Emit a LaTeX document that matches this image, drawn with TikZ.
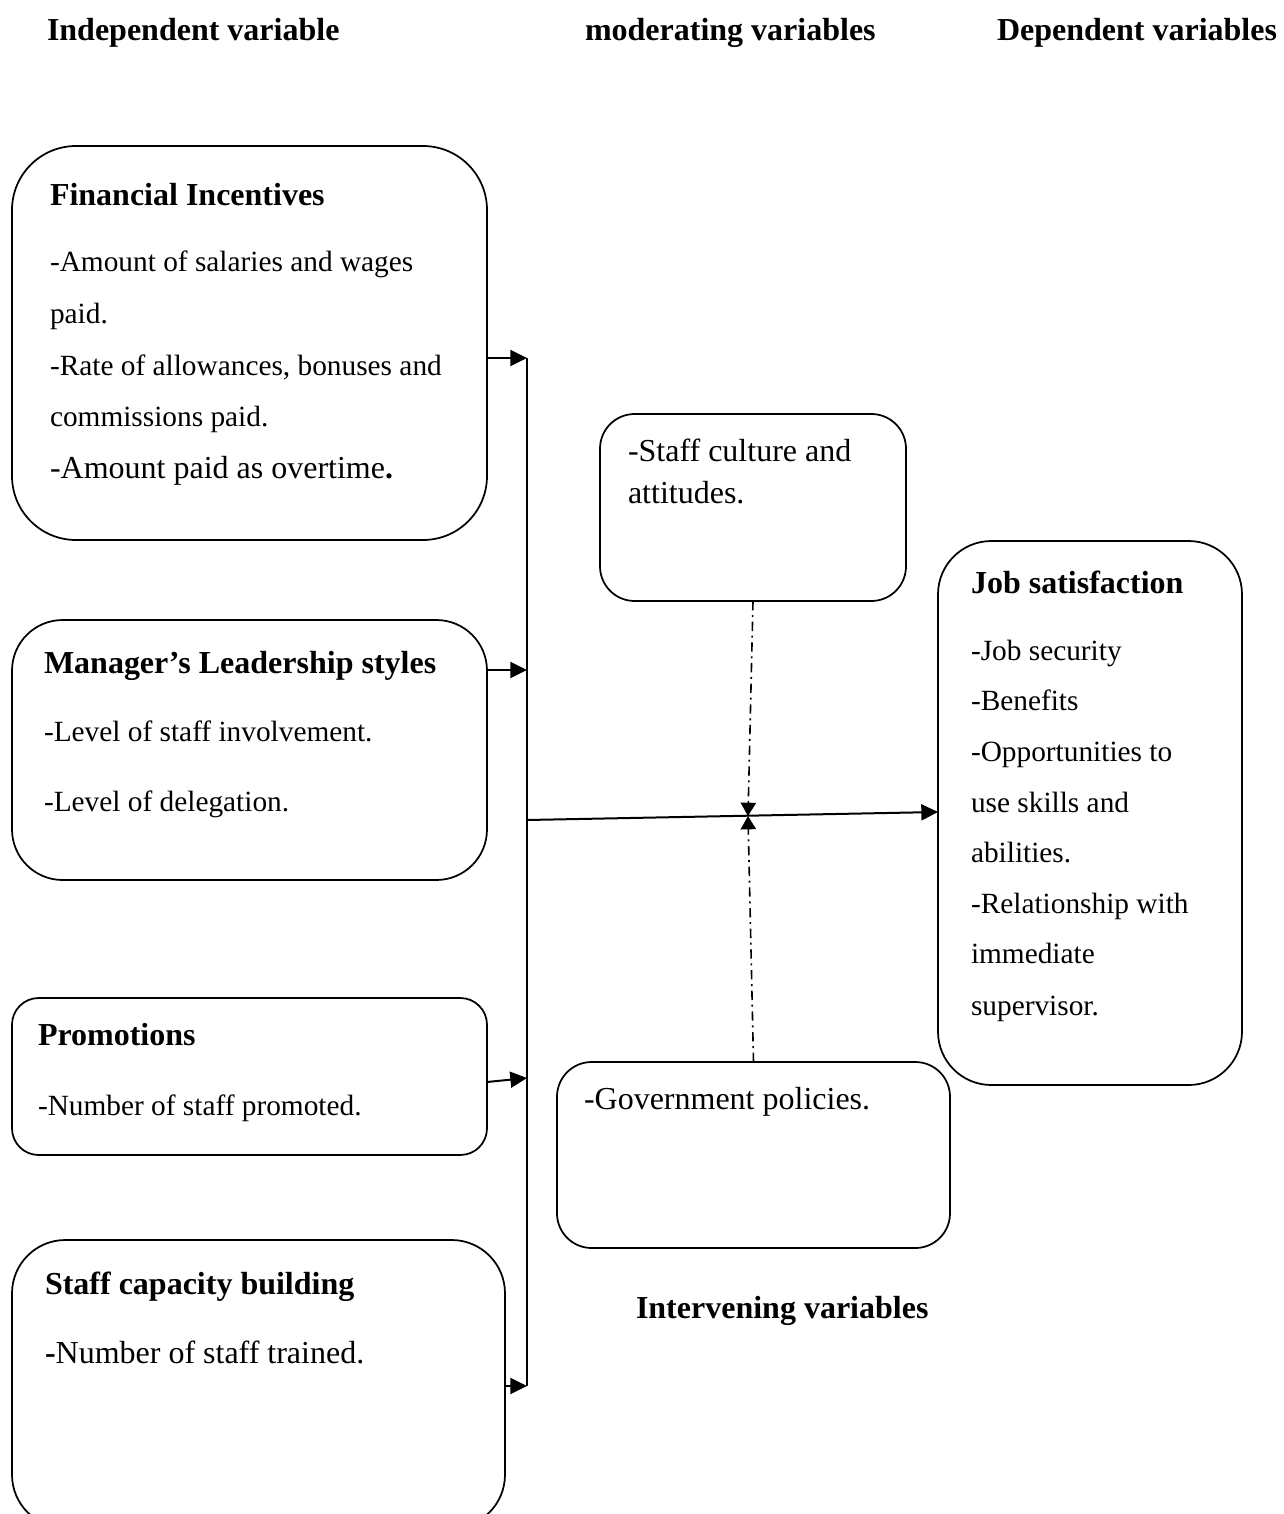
\documentclass[tikz,border=0pt]{standalone}
\usepackage{fontspec}
\setmainfont{Liberation Serif}
\usetikzlibrary{arrows.meta}
\tikzset{
  box/.style={draw, line width=1.3pt, inner sep=0pt, outer sep=0pt},
  txt/.style={anchor=base west, inner sep=0pt, outer sep=0pt, font=\fontsize{22}{26}\selectfont},
  txtb/.style={anchor=base west, inner sep=0pt, outer sep=0pt, font=\fontsize{24}{28}\selectfont},
  head/.style={anchor=base west, inner sep=0pt, outer sep=0pt, font=\fontsize{24}{28}\selectfont\bfseries},
  arr/.style={line width=1.5pt, -{Triangle[length=12.5pt,width=12pt]}},
  conn/.style={line width=1.5pt},
  dd/.style={line width=1.2pt, dash pattern=on 7pt off 3.5pt on 1.5pt off 3.5pt, -{Triangle[length=10pt,width=11.5pt]}}
}
\newcommand\pxbox[6]{%
  \node[box, rounded corners=#6, minimum width={(#4-#2)*0.75pt}, minimum height={(#5-#3)*0.75pt}] (#1) at ({(#2+#4)/2},{(#3+#5)/2}) {};}
\begin{document}
\begin{tikzpicture}[x=0.75pt, y=-0.75pt]
\useasboundingbox (0,0) rectangle (1283,1514);
% headers
\node[head] (h1) at (47,40) {Independent variable};
\node[head] (h2) at (585,40) {moderating variables};
\node[head] (h3) at (997,40) {Dependent variables};
\node[head] (h4) at (636,1318) {Intervening variables};
% boxes
\pxbox{fi}{12}{146}{487}{540}{48pt}
\pxbox{mls}{12}{620}{487}{880}{38pt}
\pxbox{pr}{12}{998}{487}{1155}{20pt}
\pxbox{scb}{12}{1240}{505}{1528}{40pt}
\pxbox{sc}{600}{414}{906}{601}{26pt}
\pxbox{gov}{557}{1062}{950}{1248}{26pt}
\pxbox{js}{938}{541}{1242}{1085}{40pt}
% Financial incentives
\node[head] (fi0) at (50,205) {Financial Incentives};
\node[txt] (fi1) at (50,271) {-Amount of salaries and wages};
\node[txt] (fi2) at (50,323) {paid.};
\node[txt] (fi3) at (50,375) {-Rate of allowances, bonuses and};
\node[txt] (fi4) at (50,426) {commissions paid.};
\node[txtb] (fi5) at (50,478) {-Amount paid as overtime\textbf{.}};
% Manager's leadership
\node[head] (mls0) at (44,673) {Manager’s Leadership styles};
\node[txt] (mls1) at (44,741) {-Level of staff involvement.};
\node[txt] (mls2) at (44,811) {-Level of delegation.};
% Promotions
\node[head] (pr0) at (38,1045) {Promotions};
\node[txt] (pr1) at (38,1115) {-Number of staff promoted.};
% Staff capacity building
\node[head] (scb0) at (45,1294) {Staff capacity building};
\node[txtb] (scb1) at (45,1363) {\textbf{-}Number of staff trained.};
% Staff culture
\node[txtb] (sc1) at (628,461) {-Staff culture and};
\node[txtb] (sc2) at (628,503) {attitudes.};
% Government
\node[txtb] (gov1) at (584,1109) {-Government policies.};
% Job satisfaction
\node[head] (js0) at (971,593) {Job satisfaction};
\node[txt] (js1) at (971,660) {-Job security};
\node[txt] (js2) at (971,710) {-Benefits};
\node[txt] (js3) at (971,761) {-Opportunities to};
\node[txt] (js4) at (971,812) {use skills and};
\node[txt] (js5) at (971,862) {abilities.};
\node[txt] (js6) at (971,913) {-Relationship with};
\node[txt] (js7) at (971,963) {immediate};
\node[txt] (js8) at (971,1015) {supervisor.};
% connector coordinates
\coordinate (jfi) at (527,358);
\coordinate (jmls) at (527,670);
\coordinate (jpr) at (527,1078);
\coordinate (jprs) at (487,1082);
\coordinate (jscb) at (527,1386);
\coordinate (jmain) at (527,820);
\coordinate (jjs) at (938,812);
\coordinate (meet) at (748,816);
% bus
\draw[conn] (jfi) -- (jscb);
\draw[arr] (fi.east |- jfi) -- (jfi);
\draw[arr] (mls.east |- jmls) -- (jmls);
\draw[arr] (jprs) -- (jpr);
\draw[arr] (scb.east |- jscb) -- (jscb);
\draw[arr] (jmain) -- (jjs);
% moderating / intervening
\draw[dd] (sc.south) -- (meet);
\draw[dd] (gov.north) -- (meet);
\end{tikzpicture}
\end{document}
